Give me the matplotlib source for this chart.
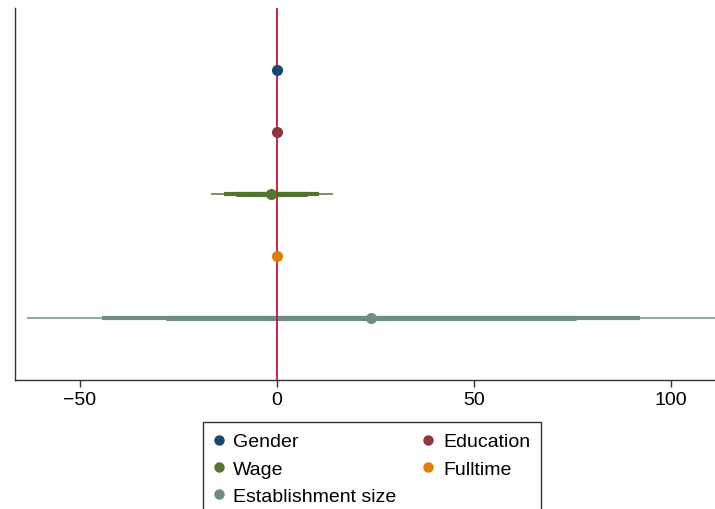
import numpy as np
import matplotlib
matplotlib.use("Agg")
import matplotlib.pyplot as plt
from matplotlib.lines import Line2D

plt.rcParams['font.family'] = ['Liberation Sans', 'DejaVu Sans']

# coefficients and confidence intervals (99 / 95 / 90)
labels = ['Gender', 'Education', 'Wage', 'Fulltime', 'Establishment size']
coef = [0.0, 0.0, -1.4, 0.0, 23.8]
ci99_lo = [-0.2, -0.2, -16.8, -0.2, -63.5]
ci99_hi = [0.2, 0.2, 14.1, 0.2, 111.5]
ci95_lo = [-0.15, -0.15, -13.4, -0.15, -44.4]
ci95_hi = [0.15, 0.15, 10.7, 0.15, 92.1]
ci90_lo = [-0.1, -0.1, -10.4, -0.1, -28.2]
ci90_hi = [0.1, 0.1, 7.6, 0.1, 75.9]
colors = ['#1a476f', '#90353b', '#55752f', '#e37e00', '#6e8e84']
xticks = [-50, 0, 50, 100]

W, H = 715, 510
fig = plt.figure(figsize=(W / 100, H / 100), dpi=100)
ax = fig.add_axes([15 / W, (H - 381) / H, 1 - 15 / W, (381 - 9) / H])

ypos = np.arange(1, len(labels) + 1)

for i in range(len(labels)):
	y = ypos[i]
	ax.hlines(y, ci99_lo[i], ci99_hi[i], color=colors[i], lw=1.1, zorder=2)
	ax.hlines(y, ci95_lo[i], ci95_hi[i], color=colors[i], lw=3.0, zorder=2)
	ax.hlines(y, ci90_lo[i], ci90_hi[i], color=colors[i], lw=3.7, zorder=2)

ax.axvline(0, color='#c8103c', lw=1.3, zorder=3)

for i in range(len(labels)):
	ax.plot(coef[i], ypos[i], 'o', color=colors[i], ms=8, mec='none', zorder=4)

ax.set_xlim(-66.5, 111.2)
ax.set_ylim(6, 0)
ax.set_yticks([])
ax.set_xticks(xticks)
ax.set_xticklabels(['\u221250', '0', '50', '100'])
ax.tick_params(axis='x', length=5, width=1.0, color='#333333', labelsize=14, pad=3)

for s in ['top', 'right']:
	ax.spines[s].set_visible(False)
for s in ['left', 'bottom']:
	ax.spines[s].set_color('#333333')
	ax.spines[s].set_linewidth(1.0)

# legend is filled row by row in the reference; matplotlib fills columns
order = [0, 2, 4, 1, 3]
handles = [Line2D([], [], ls='none', marker='o', ms=7.5, mec='none', color=colors[k]) for k in order]
leg = fig.legend(handles, [labels[k] for k in order], ncol=2, loc='upper left',
	bbox_to_anchor=(203 / W, 1 - 423 / H), fontsize=14, frameon=True,
	fancybox=False, edgecolor='#333333', framealpha=1,
	handletextpad=0.5, columnspacing=1.4, labelspacing=0.5,
	handlelength=0.5, borderpad=0.55, borderaxespad=0)
leg.get_frame().set_linewidth(1.0)

fig.savefig('out.png', dpi=100)
